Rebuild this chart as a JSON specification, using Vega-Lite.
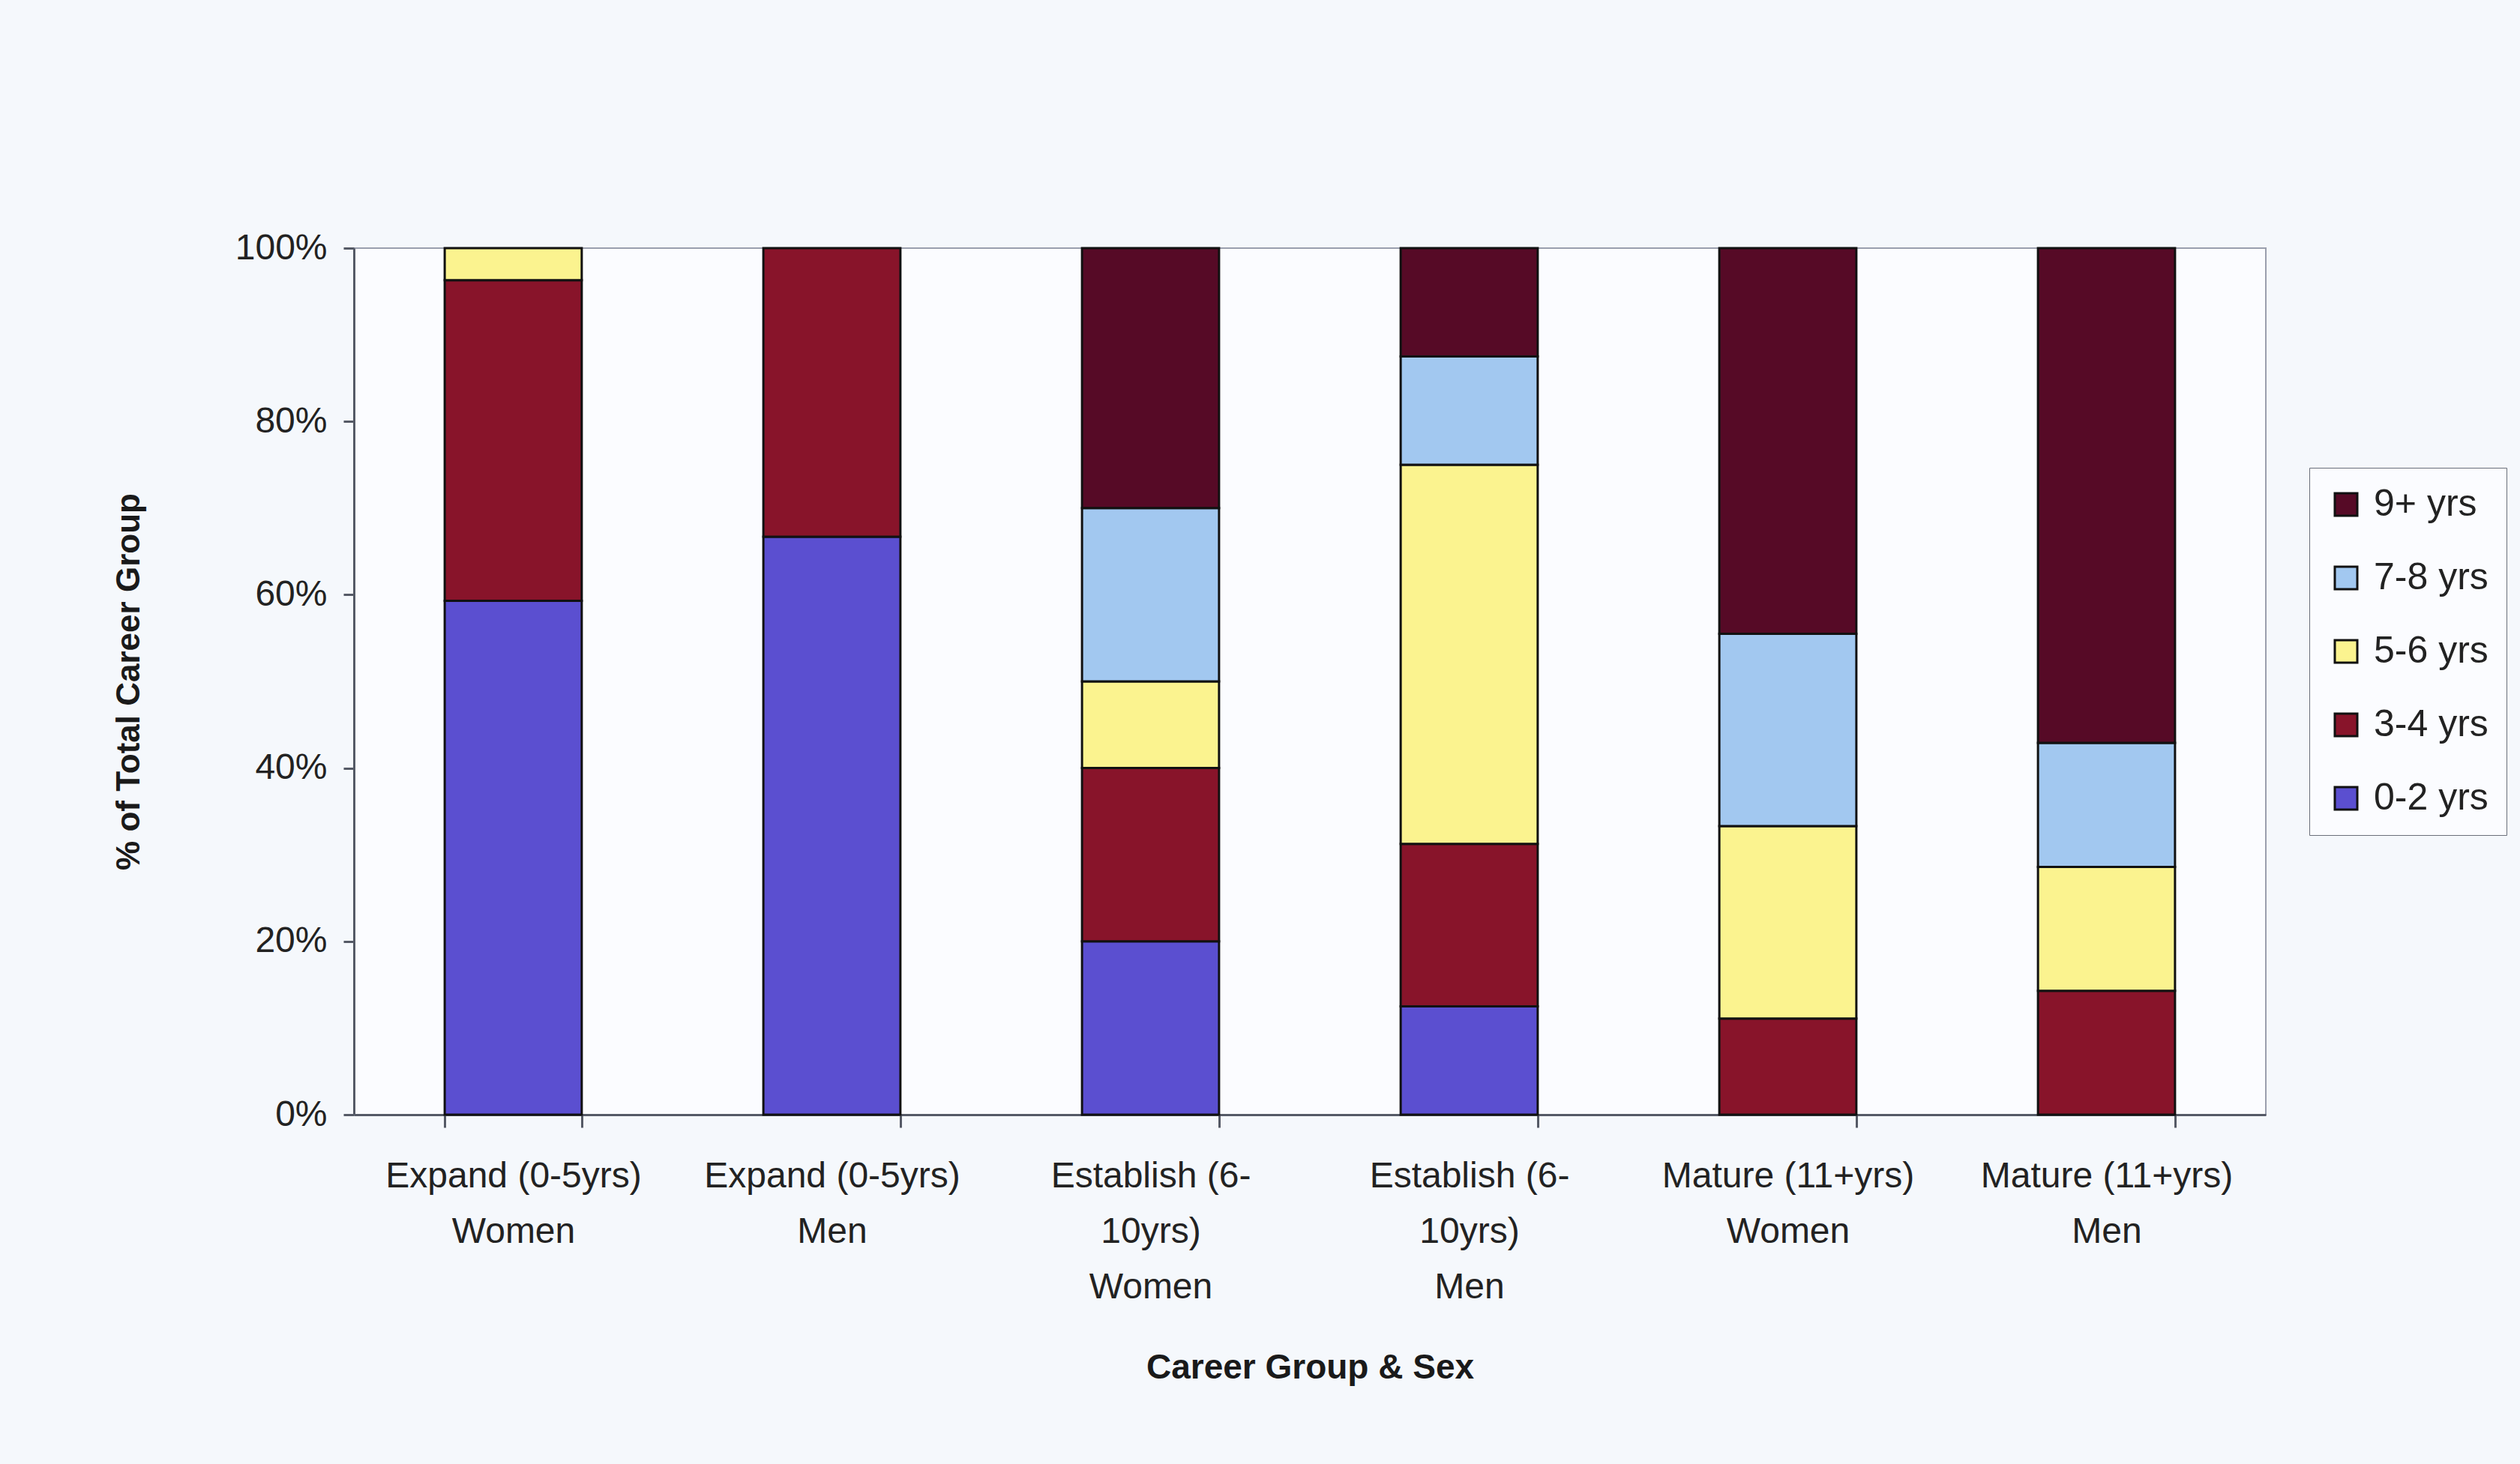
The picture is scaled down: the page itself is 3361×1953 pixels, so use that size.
{
  "$schema": "https://vega.github.io/schema/vega-lite/v6.json",
  "width": 2550,
  "height": 1156,
  "autosize": {"type": "none"},
  "padding": {"left": 472, "top": 331, "right": 339, "bottom": 466},
  "background": "#f5f8fc",
  "config": {
    "view": {"fill": "#fbfcff", "stroke": "#9a9fae", "strokeWidth": 2},
    "font": "Liberation Sans"
  },
  "data": {
    "values": [
      {"group": "Expand (0-5yrs) Women", "years": "0-2 yrs", "pct": 59.3},
      {"group": "Expand (0-5yrs) Women", "years": "3-4 yrs", "pct": 37.0},
      {"group": "Expand (0-5yrs) Women", "years": "5-6 yrs", "pct": 3.7},
      {"group": "Expand (0-5yrs) Men", "years": "0-2 yrs", "pct": 66.7},
      {"group": "Expand (0-5yrs) Men", "years": "3-4 yrs", "pct": 33.3},
      {"group": "Establish (6-10yrs) Women", "years": "0-2 yrs", "pct": 20},
      {"group": "Establish (6-10yrs) Women", "years": "3-4 yrs", "pct": 20},
      {"group": "Establish (6-10yrs) Women", "years": "5-6 yrs", "pct": 10},
      {"group": "Establish (6-10yrs) Women", "years": "7-8 yrs", "pct": 20},
      {"group": "Establish (6-10yrs) Women", "years": "9+ yrs", "pct": 30},
      {"group": "Establish (6-10yrs) Men", "years": "0-2 yrs", "pct": 12.5},
      {"group": "Establish (6-10yrs) Men", "years": "3-4 yrs", "pct": 18.75},
      {"group": "Establish (6-10yrs) Men", "years": "5-6 yrs", "pct": 43.75},
      {"group": "Establish (6-10yrs) Men", "years": "7-8 yrs", "pct": 12.5},
      {"group": "Establish (6-10yrs) Men", "years": "9+ yrs", "pct": 12.5},
      {"group": "Mature (11+yrs) Women", "years": "3-4 yrs", "pct": 11.1},
      {"group": "Mature (11+yrs) Women", "years": "5-6 yrs", "pct": 22.2},
      {"group": "Mature (11+yrs) Women", "years": "7-8 yrs", "pct": 22.2},
      {"group": "Mature (11+yrs) Women", "years": "9+ yrs", "pct": 44.5},
      {"group": "Mature (11+yrs) Men", "years": "3-4 yrs", "pct": 14.3},
      {"group": "Mature (11+yrs) Men", "years": "5-6 yrs", "pct": 14.3},
      {"group": "Mature (11+yrs) Men", "years": "7-8 yrs", "pct": 14.3},
      {"group": "Mature (11+yrs) Men", "years": "9+ yrs", "pct": 57.1}
    ]
  },
  "mark": {"type": "bar", "stroke": "#111111", "strokeWidth": 3},
  "encoding": {
    "x": {
      "field": "group",
      "type": "nominal",
      "sort": null,
      "scale": {"paddingInner": 0.57, "paddingOuter": 0.285},
      "axis": {
        "title": "Career Group & Sex",
        "titleFont": "Liberation Sans",
        "titleFontSize": 46,
        "titleFontWeight": "bold",
        "titleColor": "#1a1a1a",
        "titlePadding": 115,
        "labelAngle": 0,
        "labelFontSize": 48,
        "labelColor": "#222222",
        "labelLineHeight": 74,
        "labelPadding": 41,
        "labelExpr": "isValid(datum.value) ? split(replace(replace(replace(datum.value, ' Women', '|Women'), ' Men', '|Men'), '(6-', '(6-|'), '|') : ''",
        "tickBand": "extent",
        "tickSize": 17,
        "tickWidth": 3,
        "tickColor": "#555a66",
        "domainColor": "#555a66",
        "domainWidth": 3,
        "labelLimit": 600
      }
    },
    "y": {
      "field": "pct",
      "type": "quantitative",
      "stack": "normalize",
      "scale": {"domain": [0, 1]},
      "axis": {
        "title": "% of Total Career Group",
        "titleFont": "Liberation Sans",
        "titleFontSize": 44,
        "titleFontWeight": "bold",
        "titleColor": "#1a1a1a",
        "titlePadding": 119,
        "values": [0, 0.2, 0.4, 0.6, 0.8, 1],
        "format": ".0%",
        "labelFontSize": 48,
        "labelColor": "#222222",
        "labelPadding": 22,
        "tickSize": 14,
        "tickWidth": 3,
        "tickColor": "#555a66",
        "domainColor": "#555a66",
        "domainWidth": 3,
        "grid": false
      }
    },
    "color": {
      "field": "years",
      "type": "nominal",
      "sort": "descending",
      "scale": {
        "domain": ["9+ yrs", "7-8 yrs", "5-6 yrs", "3-4 yrs", "0-2 yrs"],
        "range": ["#560a26", "#a2c8f0", "#fbf38f", "#88142a", "#5b4fd0"]
      },
      "legend": {
        "title": null,
        "orient": "none",
        "legendX": 2608,
        "legendY": 293,
        "symbolType": "square",
        "symbolSize": 900,
        "symbolStrokeColor": "#111111",
        "symbolStrokeWidth": 3,
        "labelFontSize": 50,
        "labelColor": "#222222",
        "labelOffset": 12,
        "rowPadding": 48,
        "padding": 24,
        "strokeColor": "#6a6f7a",
        "fillColor": "#fbfcff",
        "labelLimit": 400
      }
    },
    "order": {"field": "years", "sort": "ascending"}
  }
}
